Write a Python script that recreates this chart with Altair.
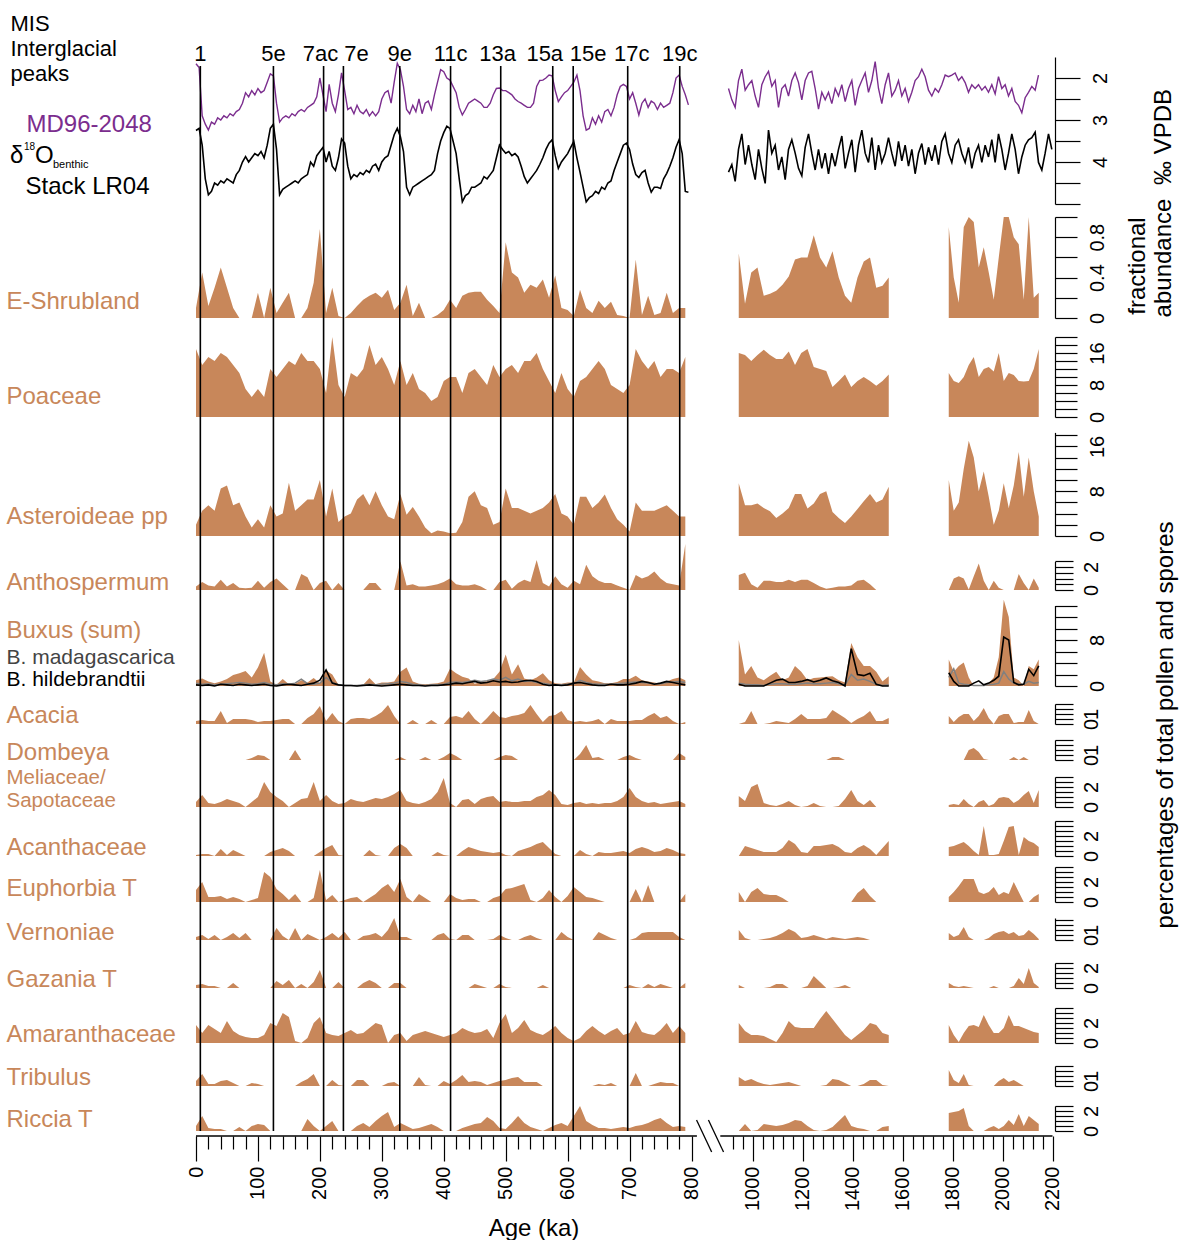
import json
import numpy as np
import pandas as pd
import altair as alt

FONT = "Liberation Sans"
BROWN = "#C8875A"
PURPLE = "#7B2D8E"
GREY = "#808080"
LAB = 24

W = 857
XS = alt.Scale(domain=[0, 800, 900, 2200], range=[0, 495.5, 531.5, 856.5])
TX = -189.5

# ---------------- data ----------------
AGES_L = list(range(0, 800, 10))
AGES_M = list(range(945, 1546, 25))
AGES_R = list(range(1785, 2146, 20))

ISO_AGES_L = list(range(0, 800, 5))
ISO_AGES_R = [round(a, 1) for a in np.linspace(904, 2197.3, 98)]

MIS_LABELS = ["1", "5e", "7ac", "7e", "9e", "11c", "13a", "15a", "15e", "17c", "19c"]
MIS_AGES = [7, 125, 206, 238, 329, 411, 492, 576, 609, 697, 781]
MIS_DX = [0, 0, -3, 13, 0, 0, -3, -8, 15, 4, 0]

LR04_L = [3.25,3.2,3.6,4.4,4.78,4.7,4.5,4.55,4.45,4.5,
          4.4,4.45,4.5,4.3,4.2,4.0,3.87,4.0,3.9,3.8,
          3.85,3.75,3.9,3.6,3.2,3.1,3.7,4.78,4.65,4.6,
          4.55,4.5,4.45,4.5,4.4,4.35,4.3,4.0,4.1,3.85,
          3.75,3.65,4.0,3.75,4.1,4.2,3.9,3.45,3.55,4.1,
          4.4,4.3,4.35,4.25,4.3,4.2,4.25,4.1,4.05,4.2,
          4.0,3.9,3.85,3.6,3.35,3.2,3.4,3.75,4.6,4.78,
          4.6,4.55,4.5,4.45,4.4,4.35,4.3,4.2,3.8,3.5,
          3.3,3.15,3.2,3.5,3.8,4.4,4.95,4.8,4.75,4.6,
          4.6,4.55,4.5,4.35,4.4,4.3,4.2,3.9,3.6,3.7,
          3.79,3.75,3.85,3.8,3.88,4.1,4.35,4.5,4.4,4.3,
          4.2,4.06,3.9,3.7,3.55,3.47,3.85,4.15,4.0,3.9,
          3.8,3.65,3.51,3.9,4.24,4.6,4.95,4.85,4.8,4.7,
          4.75,4.6,4.65,4.5,4.45,4.2,4.0,3.8,3.6,3.55,
          3.7,4.05,4.3,4.37,4.25,4.2,4.5,4.72,4.6,4.6,
          4.63,4.4,4.27,4.1,3.9,3.65,3.47,3.8,4.7,4.72]
LR04_R = [4.24,4.06,4.46,3.70,3.33,4.06,3.60,4.06,4.42,3.70,
          4.15,4.51,3.24,3.79,3.60,4.19,3.88,4.42,3.70,3.47,
          3.79,4.15,4.33,3.65,3.33,3.79,4.19,3.70,4.15,3.79,
          4.28,3.79,4.10,3.70,3.38,4.15,3.79,3.47,4.24,3.60,
          3.24,3.79,4.01,3.42,4.19,3.60,4.01,3.79,3.42,3.79,
          4.10,3.51,3.97,3.60,4.10,3.70,4.28,3.79,3.56,4.06,
          3.65,3.97,3.60,4.06,3.51,3.33,3.79,4.01,3.60,3.47,
          3.79,4.01,3.65,4.15,3.79,3.60,4.01,3.60,3.88,3.47,
          4.01,3.33,3.70,4.19,3.79,3.33,3.70,4.28,3.88,3.60,
          3.47,3.42,3.29,4.01,4.19,3.79,3.33,3.70]
MD96_L = [1.66,1.75,2.9,3.1,3.24,3.05,3.1,2.95,3.0,2.9,
          2.95,2.85,2.9,2.8,2.75,2.6,2.35,2.45,2.3,2.4,
          2.25,2.35,2.3,2.1,1.9,1.95,2.6,3.05,2.95,2.9,
          2.95,2.85,2.9,2.8,2.75,2.8,2.7,2.65,2.6,2.45,
          2.0,2.4,2.8,2.15,2.6,2.8,2.4,1.88,2.3,2.75,
          2.7,2.85,2.65,2.8,2.85,2.75,2.9,2.8,2.9,2.8,
          2.5,2.35,2.3,2.6,2.1,1.65,1.8,2.2,2.75,2.85,
          2.65,2.8,2.5,2.85,2.6,2.55,2.75,2.4,2.1,1.8,
          1.85,2.0,2.05,2.2,2.35,2.7,2.88,2.75,2.6,2.55,
          2.5,2.55,2.6,2.7,2.7,2.6,2.4,2.25,2.24,2.3,
          2.3,2.35,2.4,2.5,2.56,2.6,2.65,2.7,2.7,2.6,
          2.2,2.06,2.05,2.0,1.93,1.95,2.3,2.56,2.45,2.35,
          2.3,2.2,2.1,1.93,2.3,2.9,3.24,3.2,2.95,3.1,
          2.9,3.05,2.8,2.75,2.9,2.7,2.4,2.2,2.15,2.2,
          2.5,2.35,2.6,2.88,2.6,2.5,2.7,2.55,2.6,2.75,
          2.6,2.7,2.65,2.6,2.35,2.0,1.93,2.2,2.4,2.64]
MD96_R = [2.25,2.52,2.70,2.06,1.79,2.29,2.16,2.06,2.43,2.70,
          2.16,1.97,1.84,2.20,2.06,2.70,2.25,2.16,2.43,2.06,
          1.88,2.11,2.52,2.06,1.88,1.84,2.25,2.74,2.34,2.52,
          2.34,2.61,2.25,2.43,2.16,2.56,2.25,2.06,2.65,2.25,
          2.06,1.88,2.34,2.06,1.61,2.25,2.61,2.16,1.88,2.43,
          2.29,2.06,2.43,2.25,2.56,2.34,2.06,1.97,1.79,1.97,
          2.29,2.43,2.25,2.34,2.16,1.93,1.97,1.93,1.88,2.06,
          1.97,2.11,2.34,2.16,2.25,2.16,2.29,2.20,2.34,2.16,
          2.38,1.97,2.25,2.16,2.43,2.25,2.56,2.65,2.83,2.47,
          2.34,2.20,2.29,1.93]

ESHRUB_L = [0.1,0.45,0.12,0.3,0.5,0.3,0.1,0.0,0.0,0.0,
            0.25,0.0,0.3,0.05,0.15,0.25,0.0,0.0,0.1,0.35,
            0.88,0.05,0.3,0.02,0.0,0.05,0.12,0.18,0.22,0.25,
            0.2,0.28,0.08,0.15,0.33,0.02,0.15,0.0,0.0,0.03,
            0.08,0.18,0.1,0.22,0.25,0.26,0.26,0.18,0.12,0.05,
            0.75,0.45,0.4,0.25,0.33,0.3,0.38,0.2,0.42,0.1,
            0.08,0.02,0.28,0.1,0.05,0.17,0.1,0.16,0.03,0.02,
            0.0,0.58,0.03,0.22,0.03,0.05,0.25,0.05,0.1,0.1]
ESHRUB_M = [0.64,0.14,0.45,0.5,0.22,0.24,0.27,0.33,0.41,0.58,0.6,0.6,0.82,0.6,0.5,0.66,0.4,0.22,0.15,0.4,0.56,0.6,0.3,0.32,0.4]
ESHRUB_R = [0.9,0.4,0.15,0.9,1.0,0.95,0.5,0.7,0.45,0.18,0.6,1.0,1.0,0.8,0.73,0.18,1.0,0.2,0.25]

POA_L = [17,13,15,14,16,15,13,11,7,5,
         7,5,12,10,12,14,13,16,14,14,
         12,6,20,8,5,11,10,12,18,13,
         15,12,8,14,8,11,7,6,4,5,
         9,10,10,6,11,12,10,8,13,10,
         12,13,11,14,14,16,12,9,6,11,
         7,5,9,10,12,14,12,8,7,6,
         8,17,14,12,14,10,12,12,11,15]
POA_M = [16,15.5,14,15.5,16.8,15.5,14.5,14.5,16.4,13,16,17,12.5,12,11.5,7.5,9,10.6,7.5,9,10,9,7.8,9,10.6]
POA_R = [11,9,8.5,10,13,15,10,12,12.5,11.4,16,9,11,10.5,9,8.9,9,12,17]

AST_L = [2,4.5,5.5,4.5,8.5,9,5.5,6,3.5,1.5,
         3,1.5,5.5,3.5,4,9.5,4.5,5.5,6.5,6.5,
         10,3.5,8.5,2.5,3.5,4,6.5,7.5,5.5,8,
         5.5,3.5,3,7.5,3.8,5.2,3.5,1.5,0.5,1,
         0.8,0.5,0.6,2.5,7,8,5.5,5,2,2.5,
         8.5,5,5,4.5,4,4.5,5,6,7.5,4,
         3.5,2,7,7,5,6,7.4,5,3,2,
         0.8,6,4.5,4.5,4.5,5,5.5,4.5,3.5,3.5]
AST_M = [9.4,5.5,5.5,5.8,5,4.4,3.2,4,5,7.5,7.5,4.9,5.8,7.5,8,4.3,3.2,2.3,3.5,4.8,6.2,7.5,6,6.5,8.8]
AST_R = [10,4.5,6,12,17,14,8,11.5,7,2,4.5,9.4,5,9,15,7,14,8,3.5]

ANTH_L = [0.3,0.7,0.4,0.3,0.9,0.3,0.6,0.2,0.15,0.2,
          0.8,0.2,0.7,1.0,0.5,0.0,0.0,1.4,1.1,0.0,
          0.6,0.8,0.0,0.6,0.0,0.0,0.0,0.0,0.6,0.6,
          0.0,0.0,0.0,2.5,0.4,0.5,0.3,0.3,0.4,0.5,
          0.7,1.0,0.5,0.4,0.4,0.5,0.3,0.0,0.0,0.7,
          0.9,0.1,0.6,0.9,0.7,2.6,0.6,0.3,1.2,0.5,
          0.2,0.8,0.5,2.2,1.2,0.8,0.6,0.6,0.4,0.2,
          0.0,1.3,1.0,1.2,1.6,1.0,0.6,0.5,0.4,4.0]
ANTH_M = [1.3,1.5,0.5,0.2,0.8,0.8,0.7,0.7,0.9,0.7,0.9,0.9,0.6,0.3,0.1,0.2,0.3,0.3,0.4,0.8,0.9,0.5,0.0,0.0,0.0]
ANTH_R = [0,1.0,1.2,1.0,0.05,1.2,2.3,0.8,0,0.8,0.2,0,0,0,1.4,0.6,0,1.0,0.2]

BUX_L = [1.0,1.3,0.8,0.5,0.8,1.2,1.9,2.2,2.6,1.5,
         3.2,5.8,0.8,0.2,1.2,0.3,0.4,1.0,0.6,1.4,
         0.5,2.7,2.0,0.2,0.1,0.1,0.1,0.2,1.4,0.3,
         0.6,0.6,0.8,2.5,3.2,0.8,0.4,0.3,0.4,0.5,
         0.8,3.0,2.2,1.6,1.3,0.4,0.7,0.9,1.2,2.5,
         5.5,2.0,3.8,1.3,1.0,1.5,2.2,1.0,0.5,0.4,
         0.6,0.6,3.3,2.0,1.0,0.8,0.5,0.5,0.7,1.2,
         1.2,1.8,1.0,0.8,0.6,0.4,0.8,1.2,1.5,1.0]
BUX_M = [8,2,3.5,1.5,1.0,1.8,2.5,1.0,1.5,3.5,2.5,1.0,1.4,1.5,1.6,1.7,1.0,0.6,7.5,5,3.5,3.5,2.5,0.8,1.7]
BUX_R = [4.6,2.5,3.5,4.1,1.5,0,0,0,0.5,1.5,5,15,12,1.5,1.0,0,3.5,2.9,4.6]

BHIL_L = [0.2,0.1,0.2,0.0,0.3,0.2,0.1,0.3,0.2,0.1,
          0.2,0.3,0.1,0.0,0.2,0.3,0.2,0.1,0.3,0.5,
          1.0,2.8,0.5,0.2,0.1,0.1,0.0,0.1,0.2,0.1,
          0.0,0.1,0.2,0.3,0.2,0.1,0.1,0.0,0.1,0.1,
          0.2,0.3,0.5,0.4,0.6,0.8,0.5,0.6,0.9,0.7,
          0.8,0.6,0.7,0.9,1.0,0.8,0.3,0.1,0.2,0.1,
          0.2,0.5,0.6,0.4,0.2,0.1,0.1,0.3,0.2,0.2,
          0.3,0.5,0.8,0.6,0.3,0.5,0.8,0.6,0.4,0.2]
BHIL_M = [0.3,0,0,0,0,0.5,1.0,1.2,0.6,0.6,0.8,1.1,0.7,1.0,1.4,0.9,0.6,0,6.5,2.0,1.8,2.2,0.3,0,0]
BHIL_R = [2.3,0.8,0,0,0,0.5,0.9,0.2,0.5,1.0,1.7,8.5,8.0,0.6,0.2,0.3,2.9,1.8,3.5]

BMAD_L = [0.5,0.3,0.4,0.2,0.3,0.4,0.5,0.6,0.5,0.3,
          0.4,0.6,0.3,0.2,0.4,0.3,0.5,1.2,0.4,0.3,
          0.5,1.5,0.6,0.2,0.1,0.1,0.1,0.2,0.3,0.2,
          0.3,0.4,0.5,0.8,0.6,0.3,0.2,0.1,0.2,0.2,
          0.3,0.6,0.7,0.6,0.8,1.0,0.8,0.9,1.2,1.0,
          1.5,0.9,1.2,0.8,0.9,0.6,0.5,0.3,0.2,0.2,
          0.3,0.4,1.0,0.6,0.4,0.3,0.3,0.3,0.4,0.5,
          0.6,0.7,0.6,0.5,0.4,0.4,0.6,0.7,0.8,0.6]
BMAD_M = [0.5,0.3,0.2,0.2,0.1,0.3,0.4,0.4,0.3,0.3,0.4,0.5,0.4,0.4,0.5,0.6,0.4,0.2,2.0,1.0,1.2,0.8,0.3,0.1,0.2]
BMAD_R = [1.5,3.0,0.5,0.3,0.2,0.1,0.1,0.1,0.2,0.3,0.5,2.5,1.2,0.5,0.3,0.3,0.8,0.5,0.6]

ACAC_L = [0.3,0.4,0.3,0.3,1.3,0.1,0.5,0.5,0.5,0.4,
          0.2,0.3,0.3,0.4,0.5,0.5,0.0,0.0,0.6,1.0,
          1.8,0.3,1.1,0.3,0.0,0.5,0.6,0.6,0.5,0.8,
          1.2,1.9,0.8,0.0,0.0,0.4,0.0,0.0,0.4,0.0,
          0.0,0.7,0.8,0.6,1.3,0.5,0.0,0.6,1.3,0.7,
          0.6,0.8,0.9,1.1,1.9,1.0,0.2,0.8,0.9,1.3,
          0.4,0.2,0.3,0.2,0.3,0.5,0.0,0.5,0.3,0.3,
          0.3,0.4,0.4,0.8,1.1,0.6,0.8,0.3,0.0,0.2]
ACAC_M = [0,0.2,1.3,0,0,0.1,0.3,0.2,0.1,0.5,1.0,0.5,0.5,0.5,0.6,1.4,1.0,0.6,0.1,0.5,0.8,1.3,0.3,0.3,0.6]
ACAC_R = [0.8,0.2,0.7,1.0,1.0,0.3,0.8,1.6,0.6,0.0,0.8,1.0,1.0,0.1,0.2,0.2,1.4,0.3,0.0]

DOMB_L = [0,0,0,0,0,0,0,0,0,0.2,
          0.5,0.4,0,0,0,0,1.0,0,0,0,
          0,0,0,0,0,0,0,0,0,0,
          0,0,0,0.3,0,0,0,0.3,0,0,
          0.3,0.7,0.4,0,0,0,0,0,0,0.3,
          0.5,0.4,0,0,0,0,0,0,0,0,
          0,0,0.6,1.5,0.2,0.3,0,0,0,0.3,
          0.5,0.2,0,0,0,0,0,0,0.7,0.3]
DOMB_M = [0,0,0,0,0,0,0,0,0,0,0,0,0,0,0,0.3,0.3,0,0,0,0,0,0,0,0]
DOMB_R = [0,0,0,0,1.0,1.2,0.8,0.1,0,0,0,0,0,0.3,0,0.3,0,0,0]

MELI_L = [0.5,1.2,0.4,0.3,0.5,0.8,0.6,0.4,0.0,0.5,
          1.0,2.5,1.5,1.0,0.6,0.0,0.4,0.8,0.9,2.5,
          0.6,1.2,0.6,0.3,0.4,0.8,0.6,0.5,0.7,0.9,
          0.8,1.0,1.3,1.7,0.6,0.4,0.3,0.5,0.8,1.5,
          2.9,0.4,0.0,0.7,0.8,0.3,0.8,1.0,1.1,0.5,
          0.6,0.5,0.5,0.6,0.6,1.0,1.2,1.7,1.2,0.3,
          0.2,0.4,0.5,0.3,0.4,0.3,0.4,0.4,0.6,1.0,
          1.9,1.0,0.6,0.4,0.5,0.3,0.4,0.5,0.6,0.3]
MELI_M = [1.1,0.6,2.0,2.3,0.4,0.2,0.1,0.3,0.6,0.2,0.0,0.1,0.4,0.1,0.0,0.0,0.1,0.8,1.7,0.6,0.2,0.7,0.0,0.0,0.0]
MELI_R = [0.2,0.3,0.2,0.8,0.3,0.0,0.5,0.7,0.1,0.3,0.9,1.0,0.9,0.4,0.7,1.2,1.6,0.4,1.7]

ACAN_L = [0.1,0.2,0.2,0.0,0.7,0.1,0.6,0.3,0.0,0.0,
          0.0,0.0,0.4,0.6,0.8,0.5,0.0,0.0,0.0,0.0,
          0.4,0.8,1.1,0.1,0.0,0.0,0.0,0.0,0.6,0.1,
          0.0,0.0,0.8,1.2,0.8,0.0,0.0,0.0,0.0,0.4,
          0.1,0.0,0.0,0.5,0.9,0.7,0.5,0.4,0.3,0.4,
          0.1,0.0,0.5,0.7,0.9,1.2,1.4,0.8,0.2,0.0,
          0.0,0.0,0.6,0.2,0.0,0.4,0.3,0.3,0.4,0.5,
          0.3,0.7,0.9,0.7,0.4,0.5,0.8,0.6,0.3,0.2]
ACAN_M = [0.0,1.0,0.8,0.6,0.4,0.4,0.4,0.8,1.6,1.2,0.4,0.3,1.0,1.0,1.1,1.2,0.9,0.4,0.3,0.8,1.1,0.7,0.1,0.8,1.5]
ACAN_R = [0.9,1.0,1.2,1.4,1.0,0.5,0.1,3.0,0.1,0.1,0.2,1.5,2.9,3.0,0.1,1.9,1.5,1.3,0.9]

EUPH_L = [1.2,2.0,0.5,0.5,0.6,0.3,0.5,0.3,0.0,0.2,
          0.4,3.0,2.5,1.3,0.8,0.2,0.8,0.0,0.0,0.4,
          3.2,0.2,0.7,0.0,0.2,0.4,0.5,0.0,0.4,0.8,
          1.4,1.8,1.0,2.3,0.5,0.0,0.8,0.4,0.0,0.0,
          0.0,0.8,0.4,0.2,0.3,0.3,0.0,0.0,0.4,0.6,
          1.3,1.4,1.6,1.8,0.2,0.0,0.4,1.2,0.5,0.0,
          0.6,1.5,1.0,0.5,0.4,0.2,0.0,0.0,0.0,0.0,
          0.0,1.3,0.0,1.7,0.0,0.0,0.0,0.0,0.0,0.8]
EUPH_M = [1.0,0.0,1.0,1.4,0.8,0.7,0.7,0.4,0,0,0,0,0,0,0,0,0,0,0,0.9,1.4,0.6,0,0,0]
EUPH_R = [0.5,1.0,1.6,2.3,2.3,2.3,1.0,0.8,1.0,1.5,0.7,1.0,0.8,2.0,1.0,0.0,0.0,0.5,0.8]

VERN_L = [0.3,0.5,0.1,0.5,0.0,0.3,0.7,0.2,0.7,0.0,
          0.0,0.0,0.0,1.2,0.4,0.0,1.2,0.0,0.6,0.3,
          0.0,0.3,0.7,0.2,0.8,0.0,0.0,0.4,0.5,0.7,
          0.3,1.0,2.2,0.3,0.3,0.0,0.0,0.0,0.0,0.5,
          0.7,0.1,0.0,0.5,0.5,0.0,0.0,0.0,0.1,0.5,
          0.2,0.0,0.0,0.3,0.5,0.2,0.0,0.0,0.0,0.8,
          0.3,0.0,0.0,0.0,0.0,0.8,0.5,0.2,0.0,0.0,
          0.0,0.2,0.7,0.8,0.8,0.8,0.8,0.8,0.3,0.0]
VERN_M = [1.0,0.2,0.0,0.0,0.1,0.2,0.4,0.7,1.1,0.8,0.2,0.3,0.5,0.3,0.1,0.3,0.2,0.1,0.2,0.3,0.2,0,0,0,0]
VERN_R = [0.7,0.3,0.5,1.3,0.3,0,0,0,0.2,0.6,0.8,0.9,0.6,0.8,0.4,0.5,1.0,0.6,0.1]

GAZ_L = [0.3,0.4,0.2,0.2,0.0,0.0,0.5,0.0,0.0,0.0,
         0.0,0.0,0.0,0.7,0.3,0.8,0.0,0.4,0.0,0.6,
         1.8,0.0,0.0,0.6,0.0,0.0,0.0,0.5,0.8,0.5,
         0.0,0.0,0.5,0.5,0.0,0.0,0.0,0.0,0.0,0.0,
         0.0,0.0,0.0,0.0,0.0,0.4,0.2,0.0,0.0,0.4,
         0.1,0.0,0.0,0.0,0.0,0.0,0.3,0.0,0.0,0.0,
         0.0,0.0,0.0,0.0,0.0,0.0,0.0,0.0,0.0,0.0,
         0.3,0.1,0.0,0.4,0.1,0.4,0.2,0.0,0.0,0.5]
GAZ_M = [0.3,0,0,0,0,0.1,0.4,0.4,0,0,0,0.2,1.2,0.6,0,0,0.1,0.3,0,0,0,0,0,0,0]
GAZ_R = [0.5,0.2,0.1,0.2,0.1,0,0,0,0,0.2,0,0,0,0.2,1.0,0.4,2.0,0.5,0.1]

AMAR_L = [1.8,1.0,1.8,1.4,1.0,2.2,1.2,0.8,0.6,0.5,
          0.5,0.8,2.0,1.7,3.0,2.6,0.2,0.0,0.5,2.0,
          2.6,1.0,0.8,0.7,1.0,1.3,0.9,1.0,1.5,2.0,
          1.8,0.0,0.8,1.0,0.2,0.8,1.0,1.2,1.0,0.8,
          0.6,0.8,1.0,1.5,1.2,1.0,1.1,1.4,0.5,2.0,
          2.9,1.0,1.5,2.3,1.3,1.0,0.8,1.2,1.7,1.0,
          0.5,0.2,0.5,1.2,1.7,1.2,0.8,1.2,1.5,0.8,
          1.0,2.2,1.1,0.9,0.8,1.3,2.0,1.0,1.7,1.0]
AMAR_M = [2.0,1.2,0.8,0.8,0.7,0.4,0.1,1.0,2.2,1.6,1.5,1.5,1.5,2.4,3.2,2.4,1.6,0.8,0.3,0.8,1.3,2.0,1.8,1.0,0.8]
AMAR_R = [1.8,0.8,0.1,1.0,1.7,1.8,1.6,2.8,1.8,1.0,1.0,1.5,2.8,1.7,1.7,1.5,1.3,1.1,1.0]

TRIB_L = [0.5,1.2,0.2,0.2,0.5,0.6,0.3,0.0,0.0,0.3,
          0.2,0.0,0.0,0.0,0.0,0.0,0.0,0.4,0.7,1.2,
          0.0,0.0,0.6,0.1,0.0,0.0,0.6,0.6,0.0,0.0,
          0.0,0.3,0.4,0.0,0.0,0.0,0.9,0.1,0.0,0.0,
          0.5,0.2,0.6,1.1,0.4,0.5,0.4,0.1,0.3,0.5,
          0.6,0.8,0.9,0.4,0.4,0.4,0.0,0.0,0.0,0.0,
          0.0,0.0,0.0,0.0,0.0,0.2,0.1,0.3,0.0,0.0,
          0.0,1.3,0.0,0.0,0.2,0.4,0.3,0.3,0.0,0.0]
TRIB_M = [0.9,0.5,0.7,0.4,0.2,0.1,0.2,0.3,0.4,0.2,0,0,0,0,0.1,0.7,0.6,0.3,0,0,0.2,0.6,0.6,0.1,0]
TRIB_R = [1.6,0.6,0.3,1.2,0.1,0,0,0,0,0,0.5,0.8,0.4,0.6,0.3,0,0,0,0]

RICC_L = [0.5,1.5,0.3,0.2,0.2,0.0,0.0,0.4,0.0,0.5,
          0.7,0.6,0.0,0.0,0.0,0.0,0.0,0.0,1.2,0.5,
          0.0,0.5,1.0,0.0,0.0,0.0,0.5,0.8,0.4,1.0,
          1.5,1.9,0.4,0.8,0.5,0.2,0.3,0.5,0.7,0.4,
          0.0,0.0,0.0,0.3,0.5,0.7,0.8,1.4,1.0,0.3,
          0.2,0.8,1.5,0.8,0.4,0.2,0.0,0.3,0.6,0.8,
          0.5,1.5,2.5,1.0,0.6,0.3,0.3,0.2,0.3,0.4,
          0.3,0.5,0.6,0.8,1.1,1.3,0.8,0.4,0.5,0.4]
RICC_M = [0,0.7,0,0.1,0.7,0.6,0.5,0.6,0.8,1.1,1.0,0.5,0.1,0,0.1,0.4,1.0,1.6,0.5,0.3,0.2,0,0,0.4,0.5]
RICC_R = [1.8,1.9,2.0,2.3,0.5,0,0,0,0.3,0.5,0.2,0.5,1.1,0.6,1.7,0.5,1.5,1.1,0.7]

# x-axis tick positions
XMAJOR = [0, 100, 200, 300, 400, 500, 600, 700, 800, 1000, 1200, 1400, 1600, 1800, 2000, 2200]
XMINOR = [a for a in range(20, 800, 20) if a % 100] + [a for a in range(920, 2200, 40) if a % 200]
AXIS_LINE = pd.DataFrame({"a": [0, 880], "b": [815, 2200]})
BREAK = pd.DataFrame({"a": [814, 847], "b": [856, 889]})

NOVIEW = alt.ViewBackground(stroke=None, strokeWidth=0)


# ---------------- helpers ----------------
def seg_df(l, m, r, ages=(AGES_L, AGES_M, AGES_R)):
    parts = []
    for name, a, v in zip(["L", "M", "R"], ages, (l, m, r)):
        assert len(a) == len(v), (name, len(a), len(v))
        parts.append(pd.DataFrame({"age": a, "value": v, "seg": name}))
    return pd.concat(parts, ignore_index=True)


def iso_df(l, r):
    a = pd.DataFrame({"age": ISO_AGES_L, "value": l, "seg": "L"})
    b = pd.DataFrame({"age": ISO_AGES_R[:len(r)], "value": r, "seg": "R"})
    assert len(l) == len(ISO_AGES_L)
    return pd.concat([a, b], ignore_index=True)


MIS_DF = pd.DataFrame({"age": MIS_AGES, "label": MIS_LABELS})


def xenc(axis=None, field="age"):
    return alt.X(f"{field}:Q", scale=XS, axis=axis)


def yaxis(ticks, shown, tick=22, pad=10):
    return alt.Axis(
        orient="right", values=ticks,
        labelExpr="indexof(%s, datum.value) >= 0 ? datum.label : ''" % json.dumps(shown),
        format="~g", tickSize=tick, offset=2, grid=False, title=None,
        labelAngle=270, labelFontSize=20, labelFont=FONT, labelColor="black",
        labelPadding=pad, domainColor="black", tickColor="black",
        domainWidth=1.2, tickWidth=1.2, labelOverlap=False, labelBound=False)


def mis_rules(y0=None, h=None, axis=None):
    enc = dict(x=xenc(axis))
    if y0 is not None:
        enc.update(y=alt.value(y0), y2=alt.value(h))
    return alt.Chart(MIS_DF).mark_rule(color="black", strokeWidth=1.6).encode(**enc)


def text(t, x, y, color=BROWN, size=LAB, baseline="middle", align="left", angle=0):
    return alt.Chart(pd.DataFrame({"t": [t]})).mark_text(
        align=align, baseline=baseline, font=FONT, fontSize=size, color=color, angle=angle
    ).encode(x=alt.value(x), y=alt.value(y), text="t:N")


def pollen_row(df, h, dmax, k, ticks, shown, labels, extra=(), bottom=False, tick=22, pad=10):
    ys = alt.Scale(domain=[0, dmax], range=[h, h - k * dmax], nice=False, zero=True)
    ax = yaxis(ticks, shown, tick=tick, pad=pad)
    if bottom:
        xmaj = alt.Axis(orient="bottom", values=XMAJOR, format="d", tickSize=25, offset=5,
                        domain=False, grid=False, labelAngle=270, labelFontSize=20, labelFont=FONT,
                        labelColor="black", labelPadding=5, tickColor="black", tickWidth=1.2,
                        labelOverlap=False, labelBound=False, labelFlush=False,
                        title="Age (ka)", titleFont=FONT, titleFontSize=LAB, titleFontWeight="normal",
                        titleColor="black", titleX=337.5, titleY=80, titleBaseline="top")
        xmin = alt.Axis(orient="bottom", values=XMINOR, tickSize=13, offset=5, domain=False,
                        labels=False, grid=False, title=None, tickColor="black", tickWidth=1.2)
    else:
        xmaj = None
        xmin = None
    area = alt.Chart(df).mark_area(color=BROWN, interpolate="linear").encode(
        x=xenc(xmaj), y=alt.Y("value:Q", scale=ys, axis=ax, stack=None), detail="seg:N")
    layers = [area]
    for d, col, sw in extra:
        layers.append(alt.Chart(d).mark_line(color=col, strokeWidth=sw).encode(
            x=xenc(), y=alt.Y("value:Q", scale=ys, axis=ax, stack=None), detail="seg:N"))
    layers.append(mis_rules(axis=xmin))
    if bottom:
        layers.append(alt.Chart(AXIS_LINE).mark_rule(color="black", strokeWidth=1.3).encode(
            x=xenc(field="a"), x2="b:Q", y=alt.value(h + 5)))
        layers.append(alt.Chart(BREAK).mark_rule(color="black", strokeWidth=1.3).encode(
            x=xenc(field="a"), x2="b:Q", y=alt.value(h - 11), y2=alt.value(h + 21)))
    for t, y, col, size in labels:
        layers.append(text(t, TX, y, color=col, size=size))
    ch = alt.layer(*layers).properties(width=W, height=h, view=NOVIEW)
    if bottom:
        ch = ch.resolve_scale(x="independent").resolve_axis(x="independent")
    return ch


# ---------------- header row ----------------
HEAD_H = 57
head_layers = [
    text("MIS", -185.5, 31, color="black", size=22, baseline="alphabetic"),
    text("Interglacial", -185.5, 56, color="black", size=22, baseline="alphabetic"),
    text("peaks", -185.5, 81, color="black", size=22, baseline="alphabetic"),
]
for lab, age, dx in zip(MIS_LABELS, MIS_AGES, MIS_DX):
    head_layers.append(
        alt.Chart(pd.DataFrame({"age": [age], "label": [lab]})).mark_text(
            font=FONT, fontSize=22, color="black", align="center", baseline="alphabetic", dx=dx
        ).encode(x=xenc(), y=alt.value(61), text="label:N"))
head = alt.layer(*head_layers).properties(width=W, height=HEAD_H, view=NOVIEW)

# ---------------- isotope row ----------------
ISO_H = 153
iso_scale = alt.Scale(domain=[1.5, 5.0], range=[0, 147], nice=False, zero=False)
iso_ax = yaxis([2, 2.5, 3, 3.5, 4, 4.5, 5], [2, 3, 4], tick=25)
iso_layers = [
    alt.Chart(iso_df(MD96_L, MD96_R)).mark_line(color=PURPLE, strokeWidth=1.4).encode(
        x=xenc(), y=alt.Y("value:Q", scale=iso_scale, axis=iso_ax), detail="seg:N"),
    alt.Chart(iso_df(LR04_L, LR04_R)).mark_line(color="black", strokeWidth=1.6).encode(
        x=xenc(), y=alt.Y("value:Q", scale=iso_scale, axis=iso_ax), detail="seg:N"),
    mis_rules(9, ISO_H),
    text("MD96-2048", -169.5, 75, color=PURPLE, baseline="alphabetic"),
    text("\u03b4", -186, 106, color="black", baseline="alphabetic"),
    text("18", -172, 93, color="black", size=10, baseline="alphabetic"),
    text("O", -161, 106, color="black", baseline="alphabetic"),
    text("benthic", -143, 111, color="black", size=11, baseline="alphabetic"),
    text("Stack LR04", -170.5, 137, color="black", baseline="alphabetic"),
    text("\u2030 VPDB", 967.5, 80, color="black", align="center", angle=270),
]
iso = alt.layer(*iso_layers).properties(width=W, height=ISO_H, view=NOVIEW)


# ---------------- pollen rows ----------------
def steps(top, step):
    out, v = [], 0.0
    while v <= top + 1e-9:
        out.append(round(v, 2))
        v += step
    return out


rows = [head, iso]

esh = pollen_row(seg_df(ESHRUB_L, ESHRUB_M, ESHRUB_R), 108, 1.0, 101,
                 [0, 0.2, 0.4, 0.6, 0.8, 1.0], [0, 0.4, 0.8],
                 [("E-Shrubland", 92, BROWN, LAB)])
esh = alt.layer(esh,
                text("fractional", 941.5, 56, color="black", align="center", angle=270),
                text("abundance", 967.5, 48, color="black", align="center", angle=270)
                ).properties(view=NOVIEW)
rows.append(esh)
rows.append(pollen_row(seg_df(POA_L, POA_M, POA_R), 99, 20, 4, steps(20, 2), [0, 8, 16],
                       [("Poaceae", 79, BROWN, LAB)]))
rows.append(pollen_row(seg_df(AST_L, AST_M, AST_R), 119, 18.5, 5.6, steps(18, 2), [0, 8, 16],
                       [("Asteroideae pp", 100, BROWN, LAB)]))
rows.append(pollen_row(seg_df(ANTH_L, ANTH_M, ANTH_R), 54, 2.5, 11.5, steps(2.5, 0.5), [0, 2],
                       [("Anthospermum", 47, BROWN, LAB)], tick=18, pad=8))
bux = pollen_row(seg_df(BUX_L, BUX_M, BUX_R), 96, 14, 5.75, steps(14, 2), [0, 8],
                 [("Buxus (sum)", 41, BROWN, LAB), ("B. madagascarica", 68, "#444444", 21),
                  ("B. hildebrandtii", 90, "black", 21)],
                 extra=[(seg_df(BMAD_L, BMAD_M, BMAD_R), GREY, 1.5),
                        (seg_df(BHIL_L, BHIL_M, BHIL_R), "black", 1.6)])
bux = alt.layer(bux, text("percentages of total pollen and spores", 970, 135, color="black",
                          align="center", angle=270)).properties(view=NOVIEW)
rows.append(bux)
small = dict(tick=18, pad=8)
rows.append(pollen_row(seg_df(ACAC_L, ACAC_M, ACAC_R), 38, 2, 10, steps(2, 0.5), [0, 1],
                       [("Acacia", 30, BROWN, LAB)], **small))
rows.append(pollen_row(seg_df(DOMB_L, DOMB_M, DOMB_R), 36, 2, 10, steps(2, 0.5), [0, 1],
                       [("Dombeya", 29, BROWN, LAB)], **small))
rows.append(pollen_row(seg_df(MELI_L, MELI_M, MELI_R), 47, 3, 10, steps(3, 0.5), [0, 2],
                       [("Meliaceae/", 18, BROWN, 20.5), ("Sapotaceae", 41, BROWN, 20.5)], **small))
rows.append(pollen_row(seg_df(ACAN_L, ACAN_M, ACAN_R), 49, 3.5, 10, steps(3.5, 0.5), [0, 2],
                       [("Acanthaceae", 41, BROWN, LAB)], **small))
rows.append(pollen_row(seg_df(EUPH_L, EUPH_M, EUPH_R), 46, 3.5, 10, steps(3.5, 0.5), [0, 2],
                       [("Euphorbia T", 33, BROWN, LAB)], **small))
rows.append(pollen_row(seg_df(VERN_L, VERN_M, VERN_R), 38, 2.2, 10, steps(2, 0.5), [0, 1],
                       [("Vernoniae", 31, BROWN, LAB)], **small))
rows.append(pollen_row(seg_df(GAZ_L, GAZ_M, GAZ_R), 48, 2.5, 10, steps(2.5, 0.5), [0, 2],
                       [("Gazania T", 40, BROWN, LAB)], **small))
rows.append(pollen_row(seg_df(AMAR_L, AMAR_M, AMAR_R), 55, 3.5, 10, steps(3.5, 0.5), [0, 2],
                       [("Amaranthaceae", 47, BROWN, LAB)], **small))
rows.append(pollen_row(seg_df(TRIB_L, TRIB_M, TRIB_R), 43, 2, 10, steps(2, 0.5), [0, 1],
                       [("Tribulus", 35, BROWN, LAB)], **small))
rows.append(pollen_row(seg_df(RICC_L, RICC_M, RICC_R), 45, 2.5, 10, steps(2.5, 0.5), [0, 2],
                       [("Riccia T", 34, BROWN, LAB)], bottom=True, **small))

chart = alt.vconcat(*rows, spacing=0, bounds="flush").properties(
    padding={"left": 6, "top": 0, "right": 0, "bottom": 0}
).configure_view(stroke=None, strokeWidth=0).configure(background="white", font=FONT)

chart.save("out.html", embed_options={"renderer": "svg", "actions": False})
